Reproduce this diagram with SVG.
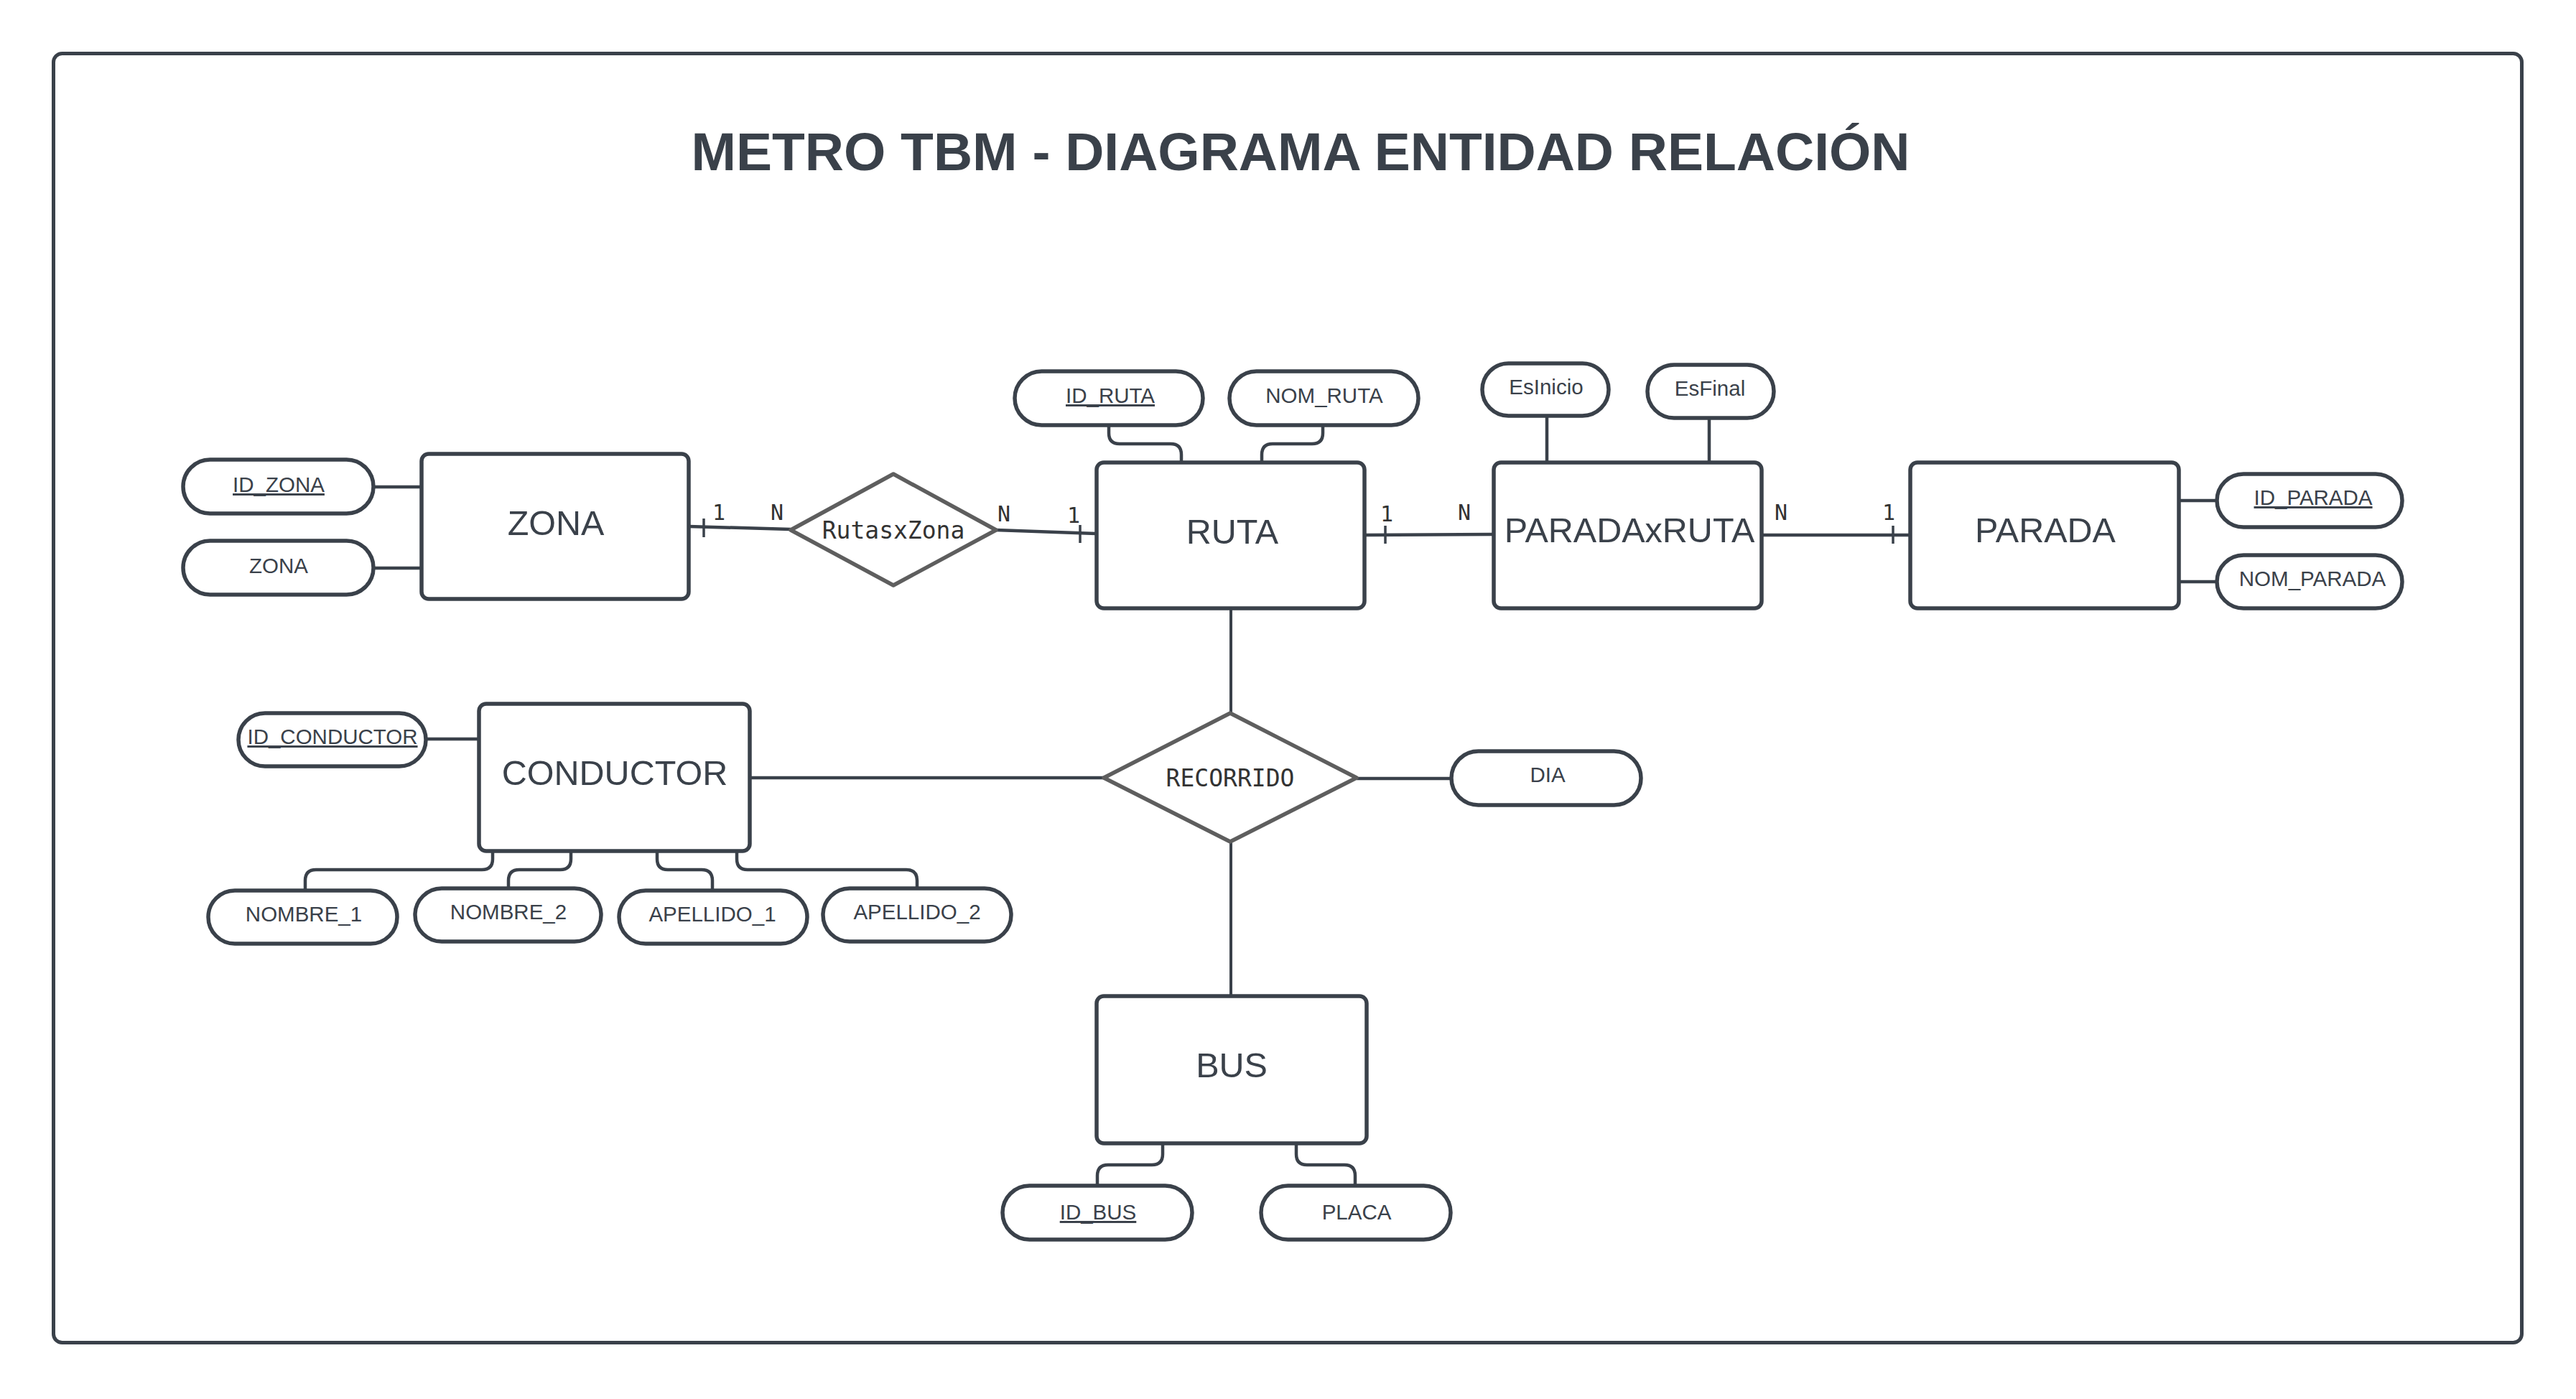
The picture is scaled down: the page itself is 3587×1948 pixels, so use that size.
<svg xmlns="http://www.w3.org/2000/svg" width="3587" height="1948" viewBox="0 0 3587 1948">
<style>
.frame{fill:#ffffff;stroke:#3a414a;stroke-width:5}
.ent{fill:#ffffff;stroke:#3a414a;stroke-width:5.5}
.attr{fill:#ffffff;stroke:#3a414a;stroke-width:5.5}
.rel{fill:#ffffff;stroke:#5e5e5e;stroke-width:5.5;stroke-linejoin:round}
.ln{fill:none;stroke:#3a414a;stroke-width:4.5;stroke-linecap:butt}
.tk{fill:none;stroke:#3a414a;stroke-width:3.5}
.et{font-family:"Liberation Sans",Arial,sans-serif;font-size:48.5px;fill:#3a414a;text-anchor:middle}
.at{font-family:"Liberation Sans",Arial,sans-serif;font-size:29.5px;fill:#3a414a;text-anchor:middle}
.rt{font-family:"DejaVu Sans Mono","Liberation Mono",monospace;font-size:33px;fill:#333333;text-anchor:middle}
.ct{font-family:"DejaVu Sans Mono","Liberation Mono",monospace;font-size:30px;fill:#333333;text-anchor:middle}
.u{text-decoration:underline}
.title{font-family:"Liberation Sans",Arial,sans-serif;font-size:75px;font-weight:bold;fill:#3a414a;text-anchor:middle}
</style>
<rect width="3587" height="1948" fill="#ffffff"/>
<rect class="frame" x="74.5" y="74.5" width="3437" height="1795" rx="12"/>
<text class="title" x="1811" y="237">METRO TBM - DIAGRAMA ENTIDAD RELACIÓN</text>

<g id="connectors">
<path class="ln" d="M959 733 L1101 737"/>
<path class="tk" d="M980 722 V748"/>
<path class="ln" d="M1387 738 L1528 743"/>
<path class="tk" d="M1504 731 V756"/>
<path class="ln" d="M1900 745 L2080 744"/>
<path class="tk" d="M1929 732 V757"/>
<path class="ln" d="M2453 745 H2660"/>
<path class="tk" d="M2636 732 V757"/>
<path class="ln" d="M1714 846 V993" style="stroke-width:4"/>
<path class="ln" d="M1714 1172 V1387" style="stroke-width:4"/>
<path class="ln" d="M1044 1083 H1537"/>
<path class="ln" d="M1889 1084 H2021"/>
<path class="ln" d="M520 678 H587"/>
<path class="ln" d="M520 791 H587"/>
<path class="ln" d="M593 1029 H667"/>
<path class="ln" d="M3034 697 H3087"/>
<path class="ln" d="M3034 810 H3087"/>
<path class="ln" d="M2154 579 V645"/>
<path class="ln" d="M2380 584 V645"/>
<path class="ln" d="M1544 592 V603 Q1544 618 1559 618 H1630 Q1645 618 1645 633 V645"/>
<path class="ln" d="M1842 592 V603 Q1842 618 1827 618 H1772 Q1757 618 1757 633 V645"/>
<path class="ln" d="M686 1185 V1196 Q686 1211 671 1211 H440 Q425 1211 425 1226 V1240"/>
<path class="ln" d="M795 1185 V1196 Q795 1211 780 1211 H723 Q708 1211 708 1226 V1237"/>
<path class="ln" d="M915 1185 V1196 Q915 1211 930 1211 H977 Q992 1211 992 1226 V1240"/>
<path class="ln" d="M1026 1185 V1196 Q1026 1211 1041 1211 H1262 Q1277 1211 1277 1226 V1237"/>
<path class="ln" d="M1619 1592 V1607 Q1619 1622 1604 1622 H1543 Q1528 1622 1528 1637 V1651"/>
<path class="ln" d="M1805 1592 V1607 Q1805 1622 1820 1622 H1872 Q1887 1622 1887 1637 V1651"/>
<text class="ct" x="1001" y="724">1</text>
<text class="ct" x="1082" y="724">N</text>
<text class="ct" x="1398" y="726">N</text>
<text class="ct" x="1495" y="728">1</text>
<text class="ct" x="1931" y="726">1</text>
<text class="ct" x="2039" y="724">N</text>
<text class="ct" x="2480" y="724">N</text>
<text class="ct" x="2630" y="724">1</text>
</g>

<g id="zona">
<rect class="ent" x="587" y="632" width="372" height="202" rx="10"/>
<text class="et" x="774" y="745">ZONA</text>
</g>
<g id="id_zona">
<rect class="attr" x="255" y="640" width="265" height="75" rx="37.5"/>
<text class="at u" x="388" y="685">ID_ZONA</text>
</g>
<g id="zona_attr">
<rect class="attr" x="255" y="753" width="265" height="75" rx="37.5"/>
<text class="at" x="388" y="798">ZONA</text>
</g>

<g id="rutasxzona">
<polygon class="rel" points="1101,738 1244,660 1387,738 1244,815"/>
<text class="rt" x="1244" y="750">RutasxZona</text>
</g>

<g id="ruta">
<rect class="ent" x="1527" y="644" width="373" height="203" rx="10"/>
<text class="et" x="1716" y="757">RUTA</text>
</g>
<g id="id_ruta">
<rect class="attr" x="1413" y="517" width="262" height="75" rx="37.5"/>
<text class="at u" x="1546" y="561">ID_RUTA</text>
</g>
<g id="nom_ruta">
<rect class="attr" x="1712" y="517" width="263" height="75" rx="37.5"/>
<text class="at" x="1844" y="561">NOM_RUTA</text>
</g>

<g id="paradaxruta">
<rect class="ent" x="2080" y="644" width="373" height="203" rx="10"/>
<text class="et" x="2269" y="755">PARADAxRUTA</text>
</g>
<g id="esinicio">
<rect class="attr" x="2064" y="506" width="176" height="73" rx="36.5"/>
<text class="at" x="2153" y="549">EsInicio</text>
</g>
<g id="esfinal">
<rect class="attr" x="2294" y="508" width="176" height="74" rx="37"/>
<text class="at" x="2381" y="551">EsFinal</text>
</g>

<g id="parada">
<rect class="ent" x="2660" y="644" width="374" height="203" rx="10"/>
<text class="et" x="2848" y="755">PARADA</text>
</g>
<g id="id_parada">
<rect class="attr" x="3087" y="660" width="258" height="74" rx="37"/>
<text class="at u" x="3221" y="703">ID_PARADA</text>
</g>
<g id="nom_parada">
<rect class="attr" x="3087" y="773" width="258" height="74" rx="37"/>
<text class="at" x="3220" y="816">NOM_PARADA</text>
</g>

<g id="conductor">
<rect class="ent" x="667" y="980" width="377" height="205" rx="10"/>
<text class="et" x="856" y="1093">CONDUCTOR</text>
</g>
<g id="id_conductor">
<rect class="attr" x="332" y="993" width="261" height="74" rx="37"/>
<text class="at u" x="463" y="1036">ID_CONDUCTOR</text>
</g>
<g id="nombre_1">
<rect class="attr" x="290" y="1240" width="263" height="74" rx="37"/>
<text class="at" x="423" y="1283">NOMBRE_1</text>
</g>
<g id="nombre_2">
<rect class="attr" x="578" y="1237" width="259" height="74" rx="37"/>
<text class="at" x="708" y="1280">NOMBRE_2</text>
</g>
<g id="apellido_1">
<rect class="attr" x="862" y="1240" width="262" height="74" rx="37"/>
<text class="at" x="992" y="1283">APELLIDO_1</text>
</g>
<g id="apellido_2">
<rect class="attr" x="1146" y="1237" width="262" height="74" rx="37"/>
<text class="at" x="1277" y="1280">APELLIDO_2</text>
</g>

<g id="recorrido">
<polygon class="rel" points="1537,1083 1713,993 1889,1083 1713,1172"/>
<text class="rt" x="1713" y="1095">RECORRIDO</text>
</g>
<g id="dia">
<rect class="attr" x="2021" y="1046" width="264" height="75" rx="37.5"/>
<text class="at" x="2155" y="1089">DIA</text>
</g>

<g id="bus">
<rect class="ent" x="1527" y="1387" width="376" height="205" rx="10"/>
<text class="et" x="1715" y="1500">BUS</text>
</g>
<g id="id_bus">
<rect class="attr" x="1396" y="1651" width="264" height="75" rx="37.5"/>
<text class="at u" x="1529" y="1698">ID_BUS</text>
</g>
<g id="placa">
<rect class="attr" x="1756" y="1651" width="264" height="75" rx="37.5"/>
<text class="at" x="1889" y="1698">PLACA</text>
</g>
</svg>
